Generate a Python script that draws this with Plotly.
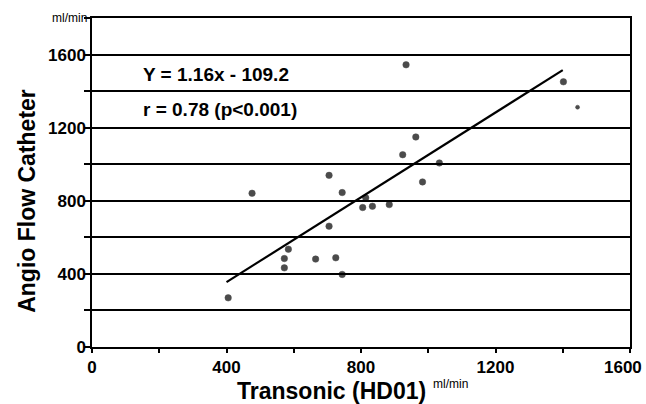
import plotly.graph_objects as go

# ---- data ----
transonic = [405, 476, 572, 572, 584, 665, 705, 705, 725, 744, 744, 805, 814, 834,
             884, 924, 934, 963, 983, 1033, 1402, 1444]
angio = [269, 841, 433, 484, 535, 481, 661, 939, 488, 397, 845, 763, 816, 770,
         779, 1052, 1544, 1149, 903, 1007, 1451, 1312]
slope = 1.16
intercept = -109.2
fit_x = [400, 1400]
equation_lines = ["Y = 1.16x - 109.2", "r = 0.78 (p<0.001)"]
x_ticks = [0, 200, 400, 600, 800, 1000, 1200, 1400, 1600]
x_labels = ["0", "", "400", "", "800", "", "1200", "", ""]
x_edge_label = "1600"
y_ticks = [0, 200, 400, 600, 800, 1000, 1200, 1400, 1600, 1800]
y_labels = ["0", "", "400", "", "800", "", "1200", "", "1600", ""]
x_title = "Transonic (HD01)"
y_title = "Angio Flow Catheter"
unit = "ml/min"

FONT = "Liberation Sans, Arial, sans-serif"

fit_y = [slope * v + intercept for v in fit_x]
sizes = [6.5] * len(transonic)
sizes[-1] = 4

fig = go.Figure()
fig.add_trace(go.Scatter(x=fit_x, y=fit_y, mode="lines",
                         line=dict(color="black", width=2.2), showlegend=False))
fig.add_trace(go.Scatter(x=transonic, y=angio, mode="markers",
                         marker=dict(color="black", size=sizes, symbol="circle",
                                     line=dict(color="black", width=0.5)),
                         showlegend=False))

fig.update_layout(
    width=646, height=404,
    margin=dict(l=92, r=16, t=18, b=57),
    paper_bgcolor="white", plot_bgcolor="white",
    font=dict(family=FONT, color="black"),
    xaxis=dict(range=[0, 1600], tickvals=x_ticks, ticktext=x_labels,
               ticks="outside", ticklen=4, tickwidth=1.5, tickcolor="black",
               showgrid=False, zeroline=False,
               showline=True, linecolor="black", linewidth=1.5, mirror=True,
               tickfont=dict(family=FONT, size=17, color="black", weight="bold")),
    yaxis=dict(range=[0, 1800], tickvals=y_ticks, ticktext=y_labels,
               ticks="outside", ticklen=6, tickwidth=1.5, tickcolor="black",
               ticklabelstandoff=-5,
               showgrid=True, gridcolor="black", gridwidth=1.5, zeroline=False,
               showline=True, linecolor="black", linewidth=1.5, mirror=True,
               tickfont=dict(family=FONT, size=17, color="black", weight="bold")),
)

ann = []
ann.append(dict(text="<b>%s</b>" % x_edge_label, xref="paper", yref="paper",
                x=1.026, y=-0.028, xanchor="right", yanchor="top",
                showarrow=False, font=dict(family=FONT, size=17, color="black")))
ann.append(dict(text="<b>%s</b>" % x_title, xref="paper", yref="paper",
                x=0.445, y=-0.134, xanchor="center", yanchor="middle",
                showarrow=False, font=dict(family=FONT, size=23, color="black")))
ann.append(dict(text=unit, xref="paper", yref="paper",
                x=0.630, y=-0.112, xanchor="left", yanchor="middle",
                showarrow=False, font=dict(family=FONT, size=12, color="black")))
ann.append(dict(text="<b>%s</b>" % y_title, xref="paper", yref="paper",
                x=-0.121, y=0.444, xanchor="center", yanchor="middle",
                textangle=-90, showarrow=False,
                font=dict(family=FONT, size=23, color="black")))
ann.append(dict(text=unit, xref="paper", yref="paper",
                x=-0.006, y=1.0, xanchor="right", yanchor="middle",
                showarrow=False, font=dict(family=FONT, size=12, color="black")))
for i, (line, yv) in enumerate(zip(equation_lines, [1491, 1300])):
    ann.append(dict(text="<b>%s</b>" % line, xref="x", yref="y",
                    x=145, y=yv, xanchor="left", yanchor="middle",
                    showarrow=False, font=dict(family=FONT, size=19, color="black")))
fig.update_layout(annotations=ann)

fig.write_html("out.html", config={"displayModeBar": False},
               post_script="document.body.style.margin='0';document.body.style.overflow='hidden';")
